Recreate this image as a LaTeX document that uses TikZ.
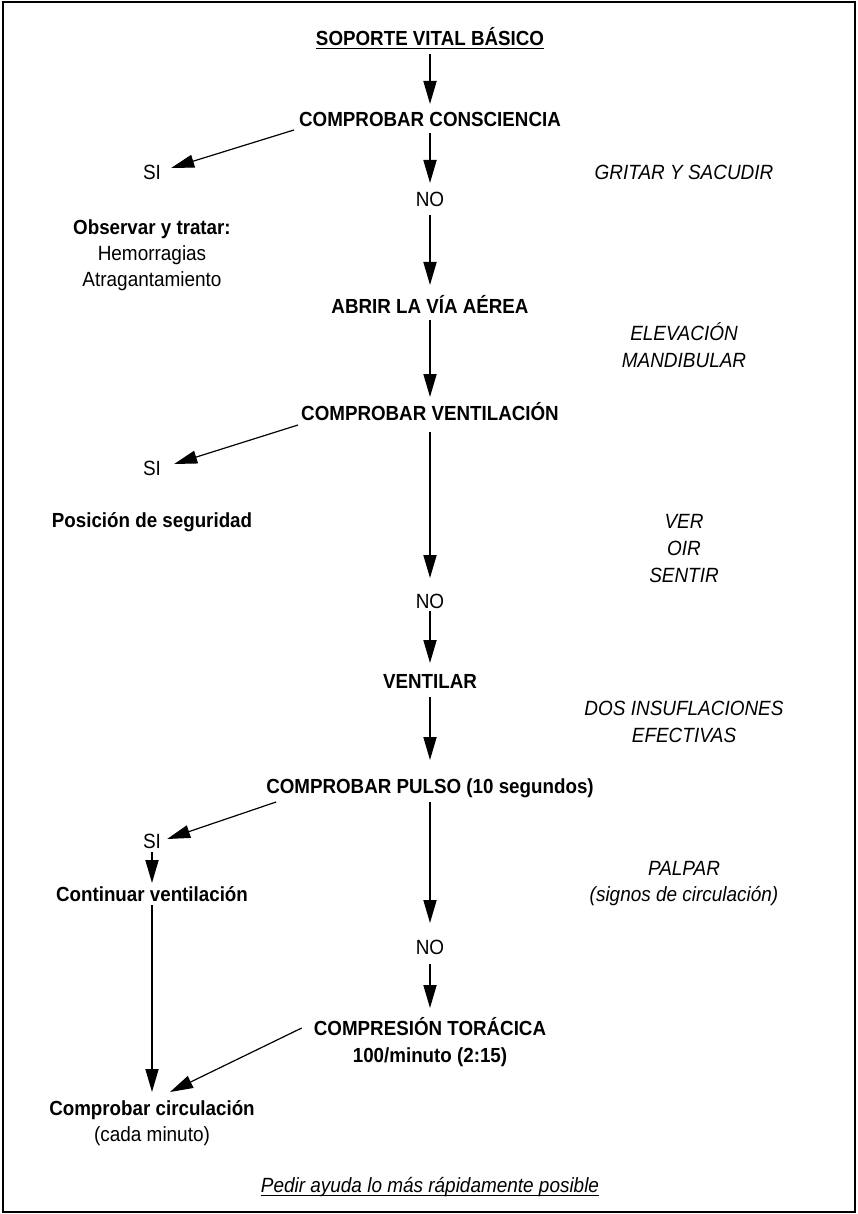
\documentclass[tikz,border=0pt]{standalone}
\usepackage{fontspec}
\setmainfont{Liberation Sans}[FakeStretch=0.92]
\usetikzlibrary{arrows.meta}
\begin{document}
\begin{tikzpicture}[x=1pt,y=-1pt,
  every node/.style={inner sep=0pt, anchor=base},
  bold/.style={font=\fontsize{20.4}{24}\selectfont\bfseries},
  reg/.style={font=\fontsize{20.6}{24}\selectfont},
  ital/.style={font=\fontsize{20.6}{24}\selectfont\itshape},
  arr/.style={line width=1.8pt, -{Triangle[length=23pt,width=13pt]}},
  darr/.style={line width=1.2pt, -{Triangle[length=23pt,width=13pt]}},
  uline/.style={line width=1pt}
]
\useasboundingbox (0,0) rectangle (858,1214);
\draw[line width=1.5pt] (3,2) rectangle (855,1212);

% main column
\node[bold] (title) at (430,46) {SOPORTE VITAL BÁSICO};
\node[bold] (cc) at (430,127) {COMPROBAR CONSCIENCIA};
\node[reg] (no1) at (430,207) {NO};
\node[bold] (abrir) at (430,313) {ABRIR LA VÍA AÉREA};
\node[bold] (cv) at (430,420) {COMPROBAR VENTILACIÓN};
\node[reg] (no2) at (430,608) {NO};
\node[bold] (vent) at (430,688) {VENTILAR};
\node[bold] (pulso) at (430,793) {COMPROBAR PULSO (10 segundos)};
\node[reg] (no3) at (430,954) {NO};
\node[bold] (comp) at (430,1035) {COMPRESIÓN TORÁCICA};
\node[bold] (comp2) at (430,1062) {100/minuto (2:15)};

% left column
\node[reg] (si1) at (152,180) {SI};
\node[bold] (obs) at (152,235) {Observar y tratar:};
\node[reg] (hem) at (152,261) {Hemorragias};
\node[reg] (atr) at (152,287) {Atragantamiento};
\node[reg] (si2) at (152,475) {SI};
\node[bold] (pos) at (152,527) {Posición de seguridad};
\node[reg] (si3) at (152,848) {SI};
\node[bold] (cont) at (152,901) {Continuar ventilación};
\node[bold] (circ) at (152,1115) {Comprobar circulación};
\node[reg] (circ2) at (152,1141) {(cada minuto)};

% right column
\node[ital] (grit) at (684,180) {GRITAR Y SACUDIR};
\node[ital] (elev) at (684,340) {ELEVACIÓN};
\node[ital] (mand) at (684,367) {MANDIBULAR};
\node[ital] (ver) at (684,528) {VER};
\node[ital] (oir) at (684,555) {OIR};
\node[ital] (sent) at (684,582) {SENTIR};
\node[ital] (dos) at (684,715) {DOS INSUFLACIONES};
\node[ital] (efec) at (684,742) {EFECTIVAS};
\node[ital] (palp) at (684,875) {PALPAR};
\node[ital] (sig) at (684,901) {(signos de circulación)};

\node[ital] (pedir) at (430,1192) {Pedir ayuda lo más rápidamente posible};

% underlines
\draw[uline] ([yshift=-3pt]title.base west) -- ([yshift=-3pt]title.base east);
\draw[uline] ([yshift=-3pt]pedir.base west) -- ([yshift=-3pt]pedir.base east);

% vertical arrows
\draw[arr] ([yshift=-8pt]title.base) -- ([yshift=23pt]cc.base);
\draw[arr] ([yshift=-6pt]cc.base) -- ([yshift=24pt]no1.base);
\draw[arr] ([yshift=-8pt]no1.base) -- ([yshift=28pt]abrir.base);
\draw[arr] ([yshift=-7pt]abrir.base) -- ([yshift=23pt]cv.base);
\draw[arr] ([yshift=-12pt]cv.base) -- ([yshift=30pt]no2.base);
\draw[arr] ([yshift=-3pt]no2.base) -- ([yshift=25pt]vent.base);
\draw[arr] ([yshift=-9pt]vent.base) -- ([yshift=33pt]pulso.base);
\draw[arr] ([yshift=-9pt]pulso.base) -- ([yshift=31pt]no3.base);
\draw[arr] ([yshift=-10pt]no3.base) -- ([yshift=27pt]comp.base);

\draw[arr] ([yshift=-4pt]si3.base) -- ([yshift=18pt]cont.base);
\draw[arr] ([yshift=-4pt]cont.base) -- ([yshift=23pt]circ.base);

% diagonal arrows
\draw[darr] ([shift={(-5pt,-3pt)}]cc.base west) -- ([shift={(10pt,12pt)}]si1.base east);
\draw[darr] ([shift={(-3pt,-5pt)}]cv.base west) -- ([shift={(13pt,11pt)}]si2.base east);
\draw[darr] ([shift={(10pt,-9pt)}]pulso.base west) -- ([shift={(6pt,9pt)}]si3.base east);
\draw[darr] ([shift={(-12pt,7pt)}]comp.base west) -- ([shift={(18pt,23pt)}]circ.base);
\end{tikzpicture}
\end{document}
